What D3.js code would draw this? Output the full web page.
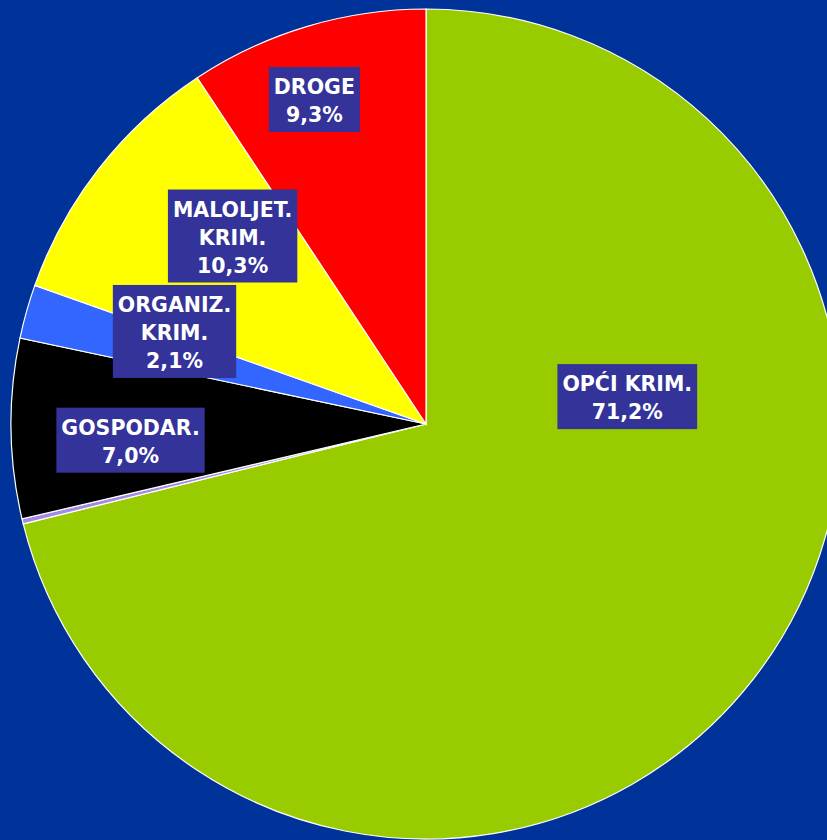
<!DOCTYPE html>
<meta charset="utf-8">
<script src="https://d3js.org/d3.v7.min.js"></script>
<style>
  body { margin: 0; background: #003399; }
</style>
<div id="chart"></div>
<script>

// data
var categories = ["OPĆI KRIM.", "", "GOSPODAR.", "ORGANIZ. KRIM.", "MALOLJET. KRIM.", "DROGE"];
var values = [71.2, 0.2, 7.0, 2.1, 10.3, 9.3];
var labelLines = [["OPĆI KRIM.", "71,2%"], [], ["GOSPODAR.", "7,0%"], ["ORGANIZ.", "KRIM.", "2,1%"], ["MALOLJET.", "KRIM.", "10,3%"], ["DROGE", "9,3%"]];
var colors = ["#99cc00", "#a48ae6", "#000000", "#3366ff", "#ffff00", "#ff0000"];

// label box centres, as [dx, dy] from the pie centre in units of radius
var labelPos = [[0.485, -0.066], null, [-0.712, 0.039], [-0.606, -0.223], [-0.466, -0.453], [-0.269, -0.782]];

var width = 827, height = 840;
var cx = 426, cy = 424, radius = 415;

var svg = d3.select("#chart")
  .append("svg")
  .attr("width", width)
  .attr("height", height);

var g = svg.append("g")
  .attr("transform", "translate(" + cx + "," + cy + ")");

var pie = d3.pie().sort(null).value(function(d) { return d; });
var arc = d3.arc().innerRadius(0).outerRadius(radius);

var arcs = pie(values);

g.selectAll("path.slice")
  .data(arcs)
  .enter()
  .append("path")
  .attr("class", "slice")
  .attr("d", arc)
  .attr("fill", function(d, i) { return colors[i]; })
  .attr("stroke", "#ffffff")
  .attr("stroke-width", 1.2);

// labels
var lineH = 28;
arcs.forEach(function(d, i) {
  if (!labelPos[i]) return;
  var lines = labelLines[i];
  var x = labelPos[i][0] * radius, y = labelPos[i][1] * radius;
  var h = lines.length * lineH + 9;
  var lg = g.append("g").attr("transform", "translate(" + x + "," + y + ")");
  var box = lg.append("rect").attr("fill", "#333399");
  var t = lg.append("text")
    .attr("text-anchor", "middle")
    .attr("fill", "#ffffff")
    .style("font-family", "'DejaVu Sans', sans-serif")
    .style("font-weight", "bold")
    .style("font-size", "20.5px");
  lines.forEach(function(s, j) {
    t.append("tspan")
      .attr("x", 0)
      .attr("y", -h / 2 + 27 + j * lineH)
      .text(s);
  });
  var bb = t.node().getBBox();
  var w = bb.width + 10;
  box.attr("x", -w / 2).attr("y", -h / 2).attr("width", w).attr("height", h);
});

</script>
